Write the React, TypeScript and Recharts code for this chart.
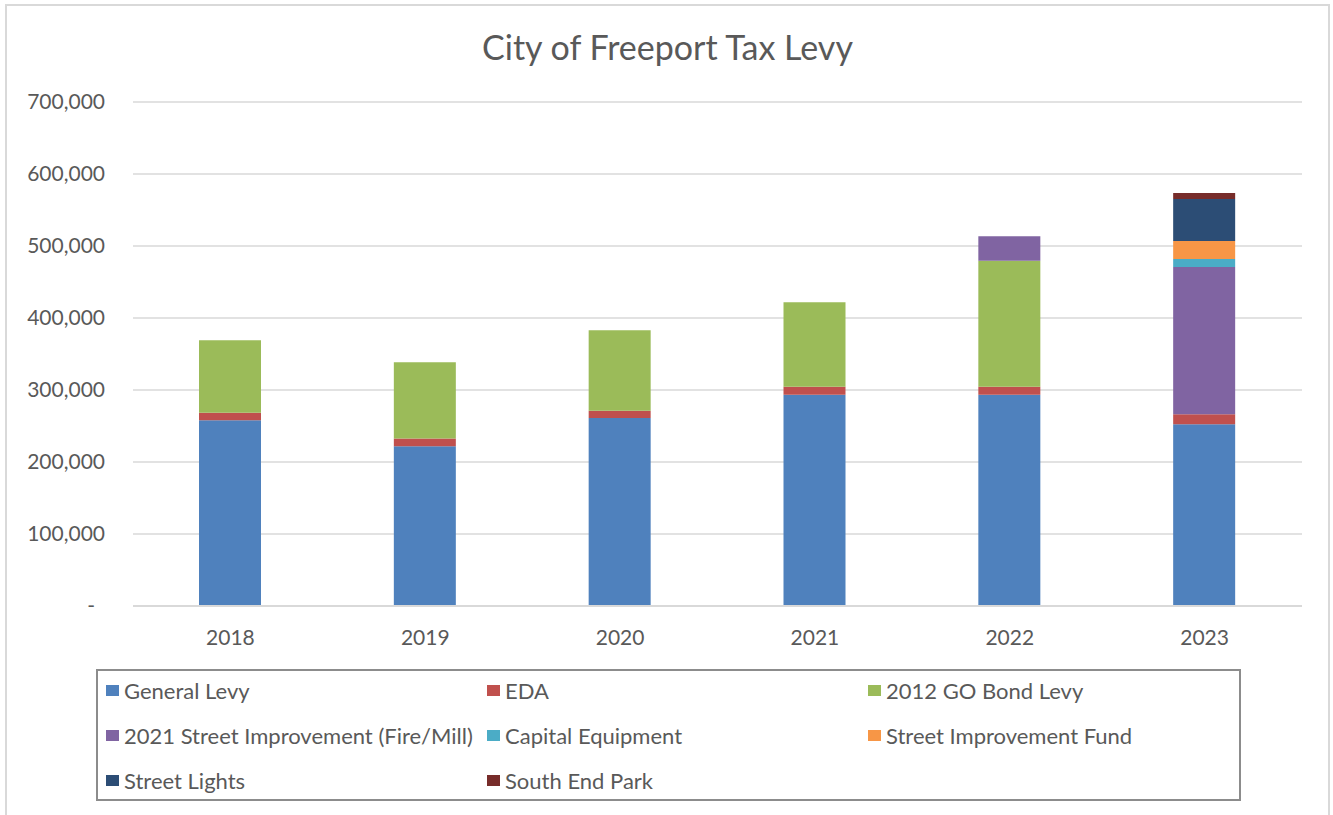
import React from "react";
import { BarChart, Bar, XAxis, YAxis, CartesianGrid, Legend } from "recharts";

const years = ["2018", "2019", "2020", "2021", "2022", "2023"];
const generalLevy = [258000, 222000, 261000, 293500, 293500, 252500];
const eda = [10500, 10600, 10300, 11100, 11100, 13800];
const goBond2012 = [100500, 106000, 111600, 117200, 175000, 0];
const streetImp2021 = [0, 0, 0, 0, 33900, 204600];
const capitalEquipment = [0, 0, 0, 0, 0, 11100];
const streetImpFund = [0, 0, 0, 0, 0, 25000];
const streetLights = [0, 0, 0, 0, 0, 58400];
const southEndPark = [0, 0, 0, 0, 0, 8300];
const yTicks = [0, 100000, 200000, 300000, 400000, 500000, 600000, 700000];

const seriesNames = [
  "General Levy",
  "EDA",
  "2012 GO Bond Levy",
  "2021 Street Improvement (Fire/Mill)",
  "Capital Equipment",
  "Street Improvement Fund",
  "Street Lights",
  "South End Park",
];
const seriesValues = [
  generalLevy,
  eda,
  goBond2012,
  streetImp2021,
  capitalEquipment,
  streetImpFund,
  streetLights,
  southEndPark,
];
const colors = ["#4F81BD", "#C0504D", "#9BBB59", "#8064A2", "#4BACC6", "#F79646", "#2C4D75", "#772C2A"];

const data = years.map((y, i) => {
  const row: Record<string, string | number> = { year: y };
  seriesNames.forEach((n, k) => {
    row[n] = seriesValues[k][i];
  });
  return row;
});

const FONT = "Lato, 'Open Sans', sans-serif";
const TEXT = "#595959";

const fmt = (v: number) => (v === 0 ? "-" : v.toLocaleString("en-US"));

const YTick = (props: any) => {
  const { x, y, payload } = props;
  const v = payload.value as number;
  return (
    <text x={v === 0 ? x - 10 : x} y={y} dy="0.355em" textAnchor="end" fill={TEXT} fontSize={21} fontFamily={FONT}>
      {fmt(v)}
    </text>
  );
};

const LegendContent = () => {
  return (
    <div
      style={{
        boxSizing: "border-box",
        width: 1145,
        height: 132,
        border: "2px solid #8c8c8c",
        display: "grid",
        gridTemplateColumns: "381px 381px 381px",
        gridTemplateRows: "45px 45px 45px",
        paddingLeft: 8,
        paddingTop: 0,
        fontFamily: FONT,
        fontSize: 22,
        color: TEXT,
      }}
    >
      {seriesNames.map((n, k) => (
        <div key={n} style={{ display: "flex", alignItems: "center", whiteSpace: "nowrap", position: "relative", top: -3 }}>
          <span style={{ display: "inline-block", width: 13, height: 11, background: colors[k], marginRight: 5 }} />
          <span>{n}</span>
        </div>
      ))}
    </div>
  );
};

export default function App() {
  return (
    <div style={{ position: "absolute", left: 0, top: 0, width: 1333, height: 815, background: "#fff", overflow: "hidden" }}>
      <div
        style={{
          position: "absolute",
          left: 5,
          top: 4,
          width: 1325,
          height: 840,
          border: "2px solid #d9d9d9",
          boxSizing: "border-box",
        }}
      />
      <div
        style={{
          position: "absolute",
          left: 0,
          width: 1335,
          top: 26,
          textAlign: "center",
          fontFamily: FONT,
          fontSize: 34,
          color: TEXT,
          lineHeight: "42px",
        }}
      >
        City of Freeport Tax Levy
      </div>
      <div style={{ position: "absolute", left: 0, top: 0 }}>
        <BarChart width={1333} height={815} data={data} margin={{ top: 102, right: 31, left: 0, bottom: 169 }}>
          <CartesianGrid vertical={false} stroke="#d9d9d9" strokeWidth={1.5} />
          <XAxis
            dataKey="year"
            height={40}
            tickLine={false}
            tickSize={0}
            tickMargin={24}
            axisLine={{ stroke: "#d9d9d9", strokeWidth: 2 }}
            tick={{ fill: TEXT, fontSize: 21, fontFamily: FONT }}
          />
          <YAxis
            width={133}
            domain={[0, 700000]}
            ticks={yTicks}
            axisLine={false}
            tickLine={false}
            tickSize={0}
            tickMargin={28}
            tick={<YTick />}
            interval={0}
          />
          <Legend
            layout="horizontal"
            verticalAlign="middle"
            align="center"
            content={<LegendContent />}
            wrapperStyle={{ left: 96, top: 669, width: 1145, height: 132 }}
          />
          {seriesNames.map((n, k) => (
            <Bar key={n} dataKey={n} name={n} stackId="a" fill={colors[k]} barSize={62} isAnimationActive={false} />
          ))}
        </BarChart>
      </div>
    </div>
  );
}
